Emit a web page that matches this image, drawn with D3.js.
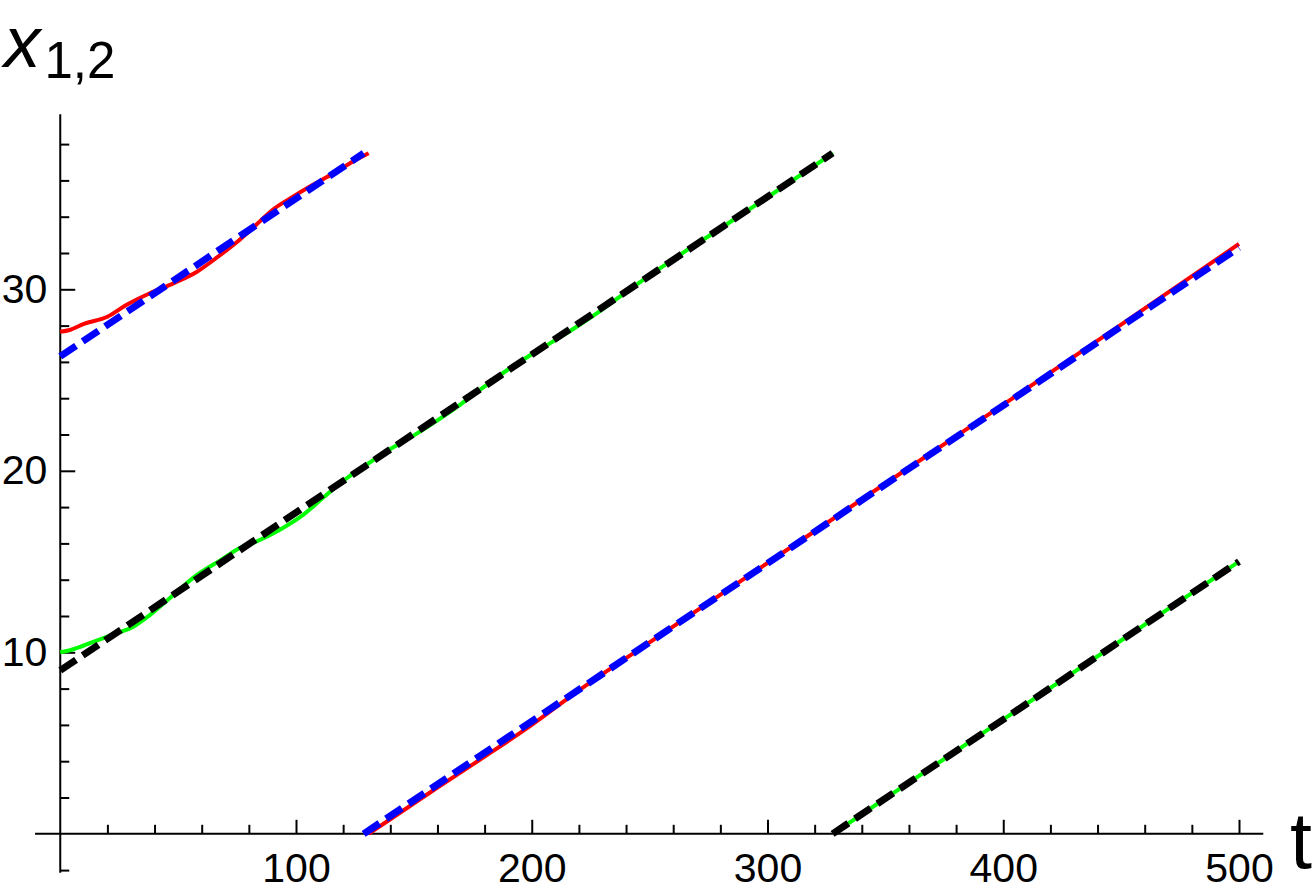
<!DOCTYPE html>
<html>
<head>
<meta charset="utf-8">
<script src="https://cdn.jsdelivr.net/npm/d3@7"></script>
<style>
  html, body { margin: 0; padding: 0; background: #fff; }
  svg { display: block; }
  text { font-family: "Liberation Sans", Arial, sans-serif; fill: #000; }
</style>
</head>
<body>
<svg id="chart" width="1312" height="896"></svg>
<script>
// ---- data ----
// numeric solution x1 (red), wrapped at the top of the box
const redT1 = [0, 4, 10, 20, 28, 38, 48, 58, 66, 76, 83, 90, 97.5, 107, 116, 124, 130.8];
const redY1 = [27.66, 27.76, 28.09, 28.49, 29.13, 29.78, 30.33, 30.97, 31.71, 32.72, 33.54, 34.37, 35.01, 35.75, 36.39, 37.03, 37.5];
const redT2 = [130.8, 140, 160, 180, 200, 220, 250, 300, 350, 400, 450, 500];
const redY2 = [0, 0.8, 2.55, 4.25, 6.0, 7.9, 10.55, 14.92, 19.3, 23.65, 28.05, 32.5];
// linear approximation (blue dashed)
const blueT1 = [0, 128.7];
const blueY1 = [26.3, 37.5];
const blueT2 = [128.7, 500];
const blueY2 = [0, 32.3];
// numeric solution x2 (green)
const greenT1 = [0, 5.5, 14, 22.5, 31, 38, 48, 58, 68, 76, 83, 93, 102, 112, 121.5, 133, 140, 150, 160, 170, 180, 190, 200, 210, 220, 230, 240, 260, 280, 300, 327.8];
const greenY1 = [10.0, 10.17, 10.58, 10.99, 11.41, 12.05, 13.16, 14.26, 15.08, 15.73, 16.09, 16.74, 17.47, 18.57, 19.59, 20.6, 21.2, 21.95, 22.78, 23.68, 24.65, 25.58, 26.42, 27.2, 28.02, 28.9, 29.85, 31.65, 33.35, 35.07, 37.5];
const greenT2 = [327.8, 350, 400, 450, 500];
const greenY2 = [0, 1.95, 6.3, 10.65, 15.0];
// linear approximation (black dashed)
const blackT1 = [0, 327.6];
const blackY1 = [9.0, 37.5];
const blackT2 = [327.6, 500];
const blackY2 = [0, 15.0];

const xMajor = [100, 200, 300, 400, 500];
const xMinor = [20, 40, 60, 80, 120, 140, 160, 180, 220, 240, 260, 280, 320, 340, 360, 380, 420, 440, 460, 480];
const yMajor = [10, 20, 30];
const yMinor = [-2, 2, 4, 6, 8, 12, 14, 16, 18, 22, 24, 26, 28, 32, 34, 36, 38];
const xExtent = [-10.7, 510.3];
const yExtent = [-2.15, 39.65];

// ---- scales ----
const x = d3.scaleLinear().domain([0, 500]).range([60.25, 1239]);
const y = d3.scaleLinear().domain([0, 30]).range([833.8, 289.3]);

const svg = d3.select("#chart");

// ---- axes ----
const gx = svg.append("g").attr("transform", `translate(0,${y(0)})`);
gx.call(d3.axisBottom(x).tickValues(xMinor).tickSize(-9).tickFormat(""));
gx.call(g => g.select(".domain").remove());
const gx2 = svg.append("g").attr("transform", `translate(0,${y(0)})`);
gx2.call(d3.axisBottom(x).tickValues(xMajor).tickSize(-14).tickPadding(19).tickFormat(d3.format("d")));
gx2.call(g => g.select(".domain").remove());

const gy = svg.append("g").attr("transform", `translate(${x(0)},0)`);
gy.call(d3.axisLeft(y).tickValues(yMinor).tickSize(-9).tickFormat(""));
gy.call(g => g.select(".domain").remove());
const gy2 = svg.append("g").attr("transform", `translate(${x(0)},0)`);
gy2.call(d3.axisLeft(y).tickValues(yMajor).tickSize(-15).tickPadding(13).tickFormat(d3.format("d")));
gy2.call(g => g.select(".domain").remove());

svg.selectAll(".tick line").attr("stroke", "#000").attr("stroke-width", 2);
svg.selectAll(".tick text").attr("font-size", 41).attr("font-family", "Liberation Sans, Arial, sans-serif").attr("fill", "#000");

svg.append("line")
  .attr("x1", x(xExtent[0])).attr("x2", x(xExtent[1]))
  .attr("y1", y(0)).attr("y2", y(0))
  .attr("stroke", "#000").attr("stroke-width", 2);
svg.append("line")
  .attr("x1", x(0)).attr("x2", x(0))
  .attr("y1", y(yExtent[0])).attr("y2", y(yExtent[1]))
  .attr("stroke", "#000").attr("stroke-width", 2);

// ---- curves ----
const line = d3.line().x(d => x(d[0])).y(d => y(d[1])).curve(d3.curveMonotoneX);
const zip = (ts, ys) => ts.map((t, i) => [t, ys[i]]);

const plot = svg.append("g");
function draw(ts, ys, color, width, dash) {
  const p = plot.append("path")
    .datum(zip(ts, ys))
    .attr("d", line)
    .attr("fill", "none")
    .attr("stroke", color)
    .attr("stroke-width", width)
    .attr("stroke-linecap", "butt")
    .attr("stroke-linejoin", "round");
  if (dash) p.attr("stroke-dasharray", dash);
}
draw(redT1, redY1, "#ff0000", 4, null);
draw(redT2, redY2, "#ff0000", 4, null);
draw(greenT1, greenY1, "#00ff00", 4, null);
draw(greenT2, greenY2, "#00ff00", 4, null);
draw(blueT1, blueY1, "#0000ff", 7, "19,8");
draw(blueT2, blueY2, "#0000ff", 7, "19,8");
draw(blackT1, blackY1, "#000000", 7, "19,8");
draw(blackT2, blackY2, "#000000", 7, "19,8");

// ---- axis labels ----
const lab = svg.append("text").attr("x", 4).attr("y", 67);
lab.append("tspan").attr("font-size", 73).attr("font-style", "italic").text("x");
lab.append("tspan").attr("font-size", 51).attr("dx", 4).attr("dy", 11).text("1,2");

svg.append("text").attr("x", 1290).attr("y", 868).attr("font-size", 79).text("t");
</script>
</body>
</html>
